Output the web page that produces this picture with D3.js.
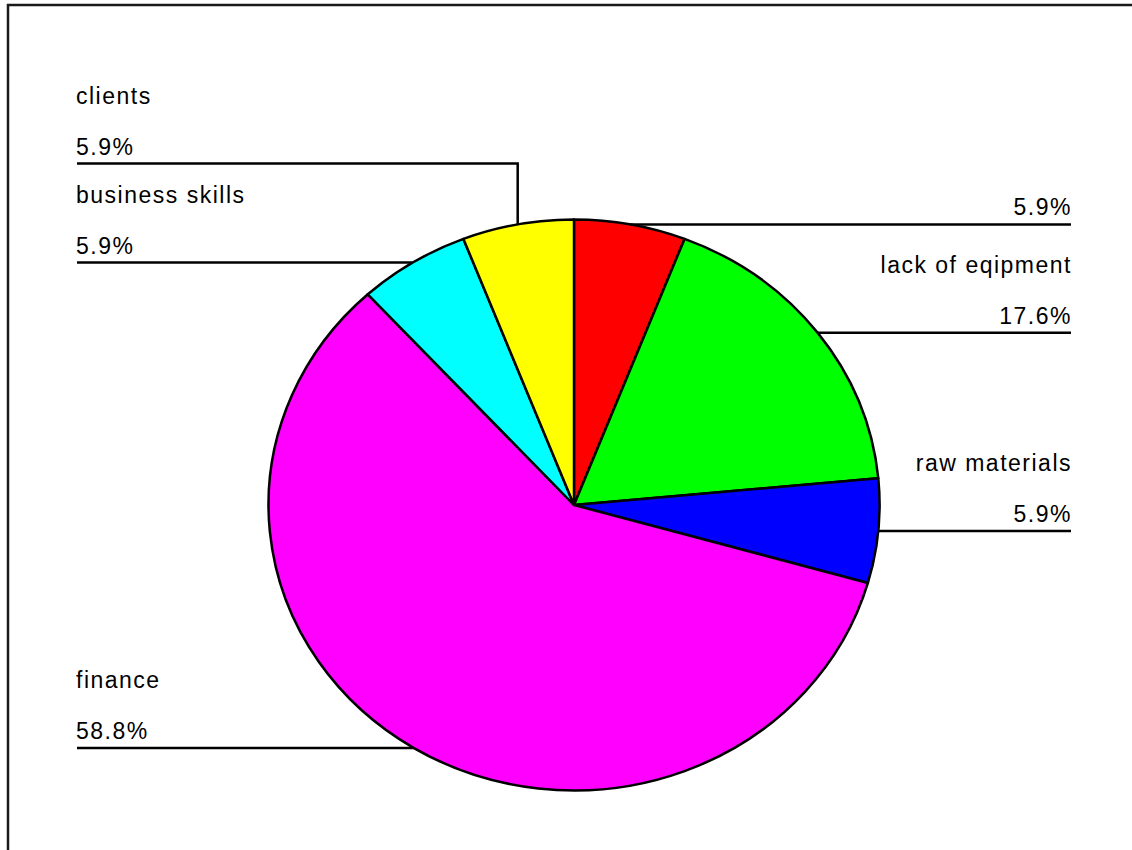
<!DOCTYPE html>
<html>
<head>
<meta charset="utf-8">
<script src="https://cdn.jsdelivr.net/npm/d3@7"></script>
<style>
  html, body { margin: 0; padding: 0; background: #fff; }
  svg { display: block; }
  text { font-family: "Liberation Sans", Arial, sans-serif; font-size: 23px; letter-spacing: 1.5px; fill: #000; }
</style>
</head>
<body>
<svg id="chart" width="1132" height="850"></svg>
<script>
// Slice names, clockwise from 12 o'clock
const categories = ["", "lack of eqipment", "raw materials", "finance", "business skills", "clients"];
// Share of each slice, in percent
const percentages = [5.9, 17.6, 5.9, 58.8, 5.9, 5.9];
const sliceColors = ["#ff0000", "#00ff00", "#0000ff", "#ff00ff", "#00ffff", "#ffff00"];

const W = 1132, H = 850;
const cx = 574, cy = 505;      // pie centre
const rx = 305.5, ry = 285.5;  // pie is drawn slightly oval
const leftX = 77, rightX = 1071;
const minGap = 99;             // vertical room one label block needs

const svg = d3.select("#chart");

// outer frame (runs off the right and bottom edges)
svg.append("rect")
  .attr("x", 8).attr("y", 5)
  .attr("width", W + 50).attr("height", H + 50)
  .attr("fill", "none").attr("stroke", "#1a1a1a").attr("stroke-width", 2.5);

const data = categories.map((c, i) => ({ name: c, value: percentages[i], color: sliceColors[i] }));

const pie = d3.pie().sort(null).value(d => d.value);
const arcs = pie(data);

// unit-radius arcs, stretched to the oval by the group transform
const arc = d3.arc().innerRadius(0).outerRadius(1);

const pieG = svg.append("g")
  .attr("transform", `translate(${cx},${cy}) scale(${rx},${ry})`);

pieG.selectAll("path")
  .data(arcs)
  .join("path")
  .attr("d", arc)
  .attr("fill", d => d.data.color)
  .attr("stroke", "#000")
  .attr("stroke-width", 2.5)
  .attr("stroke-linejoin", "round")
  .attr("vector-effect", "non-scaling-stroke");

// anchor of each leader line: middle of the slice's outer edge
const labels = arcs.map(a => {
  const mid = (a.startAngle + a.endAngle) / 2;
  const ax = cx + rx * Math.sin(mid);
  const ay = cy - ry * Math.cos(mid);
  return { a, ax, ay, side: ax < cx ? "left" : "right", y: ay };
});

// push overlapping label blocks upward on each side
["left", "right"].forEach(side => {
  const group = labels.filter(l => l.side === side).sort((p, q) => q.y - p.y);
  for (let i = 1; i < group.length; i++) {
    if (group[i - 1].y - group[i].y < minGap) group[i].y = group[i - 1].y - minGap;
  }
});

const fmt = d3.format(".1f");

const lg = svg.append("g");
labels.forEach(l => {
  const endX = l.side === "left" ? leftX : rightX;
  const pts = [[l.ax, l.ay]];
  if (Math.abs(l.y - l.ay) > 0.5) pts.push([l.ax, l.y]);
  pts.push([endX, l.y]);
  lg.append("path")
    .attr("d", d3.line()(pts))
    .attr("fill", "none")
    .attr("stroke", "#000")
    .attr("stroke-width", 2.5);

  const tx = l.side === "left" ? leftX - 1 : rightX + 1;
  const anchor = l.side === "left" ? "start" : "end";
  lg.append("text")
    .attr("x", tx).attr("y", l.y - 9)
    .attr("text-anchor", anchor)
    .text(fmt(l.a.data.value) + "%");
  if (l.a.data.name) {
    lg.append("text")
      .attr("x", tx).attr("y", l.y - 60)
      .attr("text-anchor", anchor)
      .text(l.a.data.name);
  }
});
</script>
</body>
</html>
